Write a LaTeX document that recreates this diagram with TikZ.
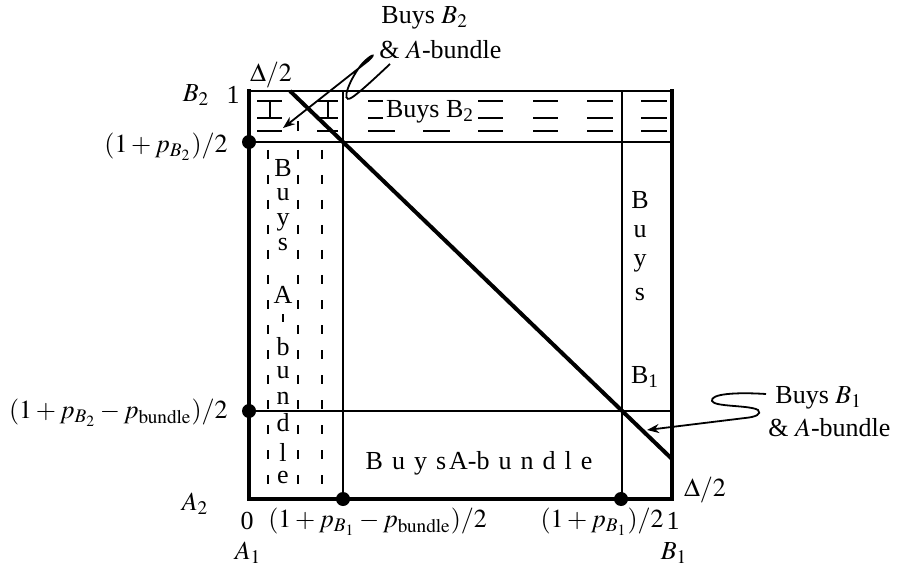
\documentclass[tikz,border=0pt]{standalone}
\usepackage{mathptmx}
\usepackage[no-math]{fontspec}
\setmainfont{Liberation Serif}
\usetikzlibrary{arrows.meta}
\begin{document}
\begin{tikzpicture}[x=0.5pt,y=-0.5pt,
  lbl/.style={inner sep=0pt, font=\fontsize{13}{15}\selectfont},
  dot/.style={circle, fill=black, inner sep=0pt, minimum size=7pt},
  hatch/.style={line width=0.9pt},
  vdash/.style={line width=0.9pt, dash pattern=on 4.5pt off 8pt},
  callout/.style={line width=0.9pt, -{Stealth[length=6pt,width=4.5pt]}},
  border/.style={line width=#1},
]
\path[use as bounding box] (0,0) rectangle (908,571);

% corners and grid points
\coordinate (TL) at (249,91);
\coordinate (TR) at (672,91);
\coordinate (BL) at (249,499);
\coordinate (BR) at (672,499);
\coordinate (H1L) at (249,142);
\coordinate (H1R) at (672,142);
\coordinate (H2L) at (249,411);
\coordinate (H2R) at (672,411);
\coordinate (V1T) at (343,91);
\coordinate (V1B) at (343,499);
\coordinate (V2T) at (622,91);
\coordinate (V2B) at (622,499);
\coordinate (DgS) at (290,91);
\coordinate (DgE) at (672,459);

% hatching in top strip
\foreach \y in {101,118,131}{
  \foreach \a/\b in {257/282,317/338,368/383,478/503,533/558,587/613,641/667}{
    \draw[hatch] (\a,\y) -- (\b,\y);
  }
}
\draw[hatch] (383,131) -- (395,131);
\draw[hatch] (423,131) -- (450,131);
% stems in top-left cell
\draw[hatch] (270,101) -- (270,118);
\draw[hatch] (328,101) -- (328,118);
\draw[hatch] (298,121) -- (298,131);

% dashed verticals in left strip
\foreach \x in {268,298,322}{
  \draw[vdash] (\x,150) -- (\x,496);
}

% text in top strip
\node[lbl, fill=white, inner sep=1pt] (tb2) at (430,112) {Buys B\textsubscript{2}};

% inner lines
\draw[border=1pt] (H1L) -- (H1R);
\draw[border=1pt] (H2L) -- (H2R);
\draw[border=1.2pt] (V1T) -- (V1B);
\draw[border=0.8pt] (V2T) -- (V2B);

% outer border
\draw[border=1.2pt] (TL) -- (TR);
\draw[border=1.6pt] (BL) -- (BR);
\draw[border=2pt, line cap=rect] (TL) -- (BL);
\draw[border=2pt, line cap=rect] (TR) -- (BR);

% diagonal
\draw[border=2pt] (DgS) -- (DgE);

% dots
\node[dot] (d1) at (H1L) {};
\node[dot] (d2) at (H2L) {};
\node[dot] (d3) at (V1B) {};
\node[dot] (d4) at (621,499) {};

% vertical texts (left strip)
\foreach \t/\y in {B/168,u/195,y/222,s/245,A/295,b/347,u/373,n/398,d/423,l/452,e/477}{
  \node[lbl] at (283,\y) {\t};
}
\draw[line width=0.8pt] (283,314) -- (283,322);

% vertical text (right strip)
\foreach \t/\y in {B/200,u/232,y/263,s/295}{
  \node[lbl] at (640,\y) {\t};
}
\node[lbl] (rb1) at (645,377) {B\textsubscript{1}};

% bottom region text
\node[lbl] (bab) at (479,463) {B\hspace{4.5pt}u\hspace{4.5pt}y\hspace{4.5pt}s\hspace{1.5pt}A-b\hspace{4.5pt}u\hspace{4.5pt}n\hspace{4.5pt}d\hspace{4.5pt}l\hspace{4.5pt}e};

% axis labels
\node[lbl] (lB2) at (196,95) {$B_2$};
\node[lbl] (l1a) at (233,95) {1};
\node[lbl] (dtop) at (271,75) {$\Delta/2$};
\node[lbl, anchor=east] (lpB2) at (228,147) {$(1 + p_{B_2})/2$};
\node[lbl, anchor=east] (lpB2b) at (228,413) {$(1 + p_{B_2} - p_{\mathrm{bundle}})/2$};
\node[lbl] (lA2) at (195,504) {$A_2$};
\node[lbl] (l0) at (247,521) {0};
\node[lbl, anchor=west] (lpB1b) at (268,522) {$(1 + p_{B_1} - p_{\mathrm{bundle}})/2$};
\node[lbl, anchor=east] (lpB1) at (664,522) {$(1 + p_{B_1})/2$};
\node[lbl] (l1b) at (673,521) {1};
\node[lbl] (lA1) at (248,553) {$A_1$};
\node[lbl] (lB1) at (674,553) {$B_1$};
\node[lbl] (dright) at (705,490) {$\Delta/2$};

% callout labels
\node[lbl, anchor=west] (c1a) at (381,18) {Buys $B_2$};
\node[lbl, anchor=west] (c1b) at (379,50) {\& $A$-bundle};
\node[lbl, anchor=west] (c2a) at (775,398) {Buys $B_1$};
\node[lbl, anchor=west] (c2b) at (768,428) {\& $A$-bundle};

% callout arrows
\coordinate (c1s) at (390,64);
\coordinate (c1e) at (283,128);
\draw[callout] (c1s) .. controls (374,79) and (358,94) .. (351,98)
  .. controls (340,104) and (350,78) .. (362,64)
  .. controls (370,55) and (378,52) .. (368,61) -- (c1e);

\coordinate (c2s) at (766,394);
\coordinate (c2e) at (647,430);
\draw[callout] (c2s) .. controls (735,392) and (710,394) .. (712,401)
  .. controls (714,407) and (750,405) .. (758,410)
  .. controls (762,414) and (756,417) .. (745,418) -- (c2e);
\end{tikzpicture}
\end{document}
